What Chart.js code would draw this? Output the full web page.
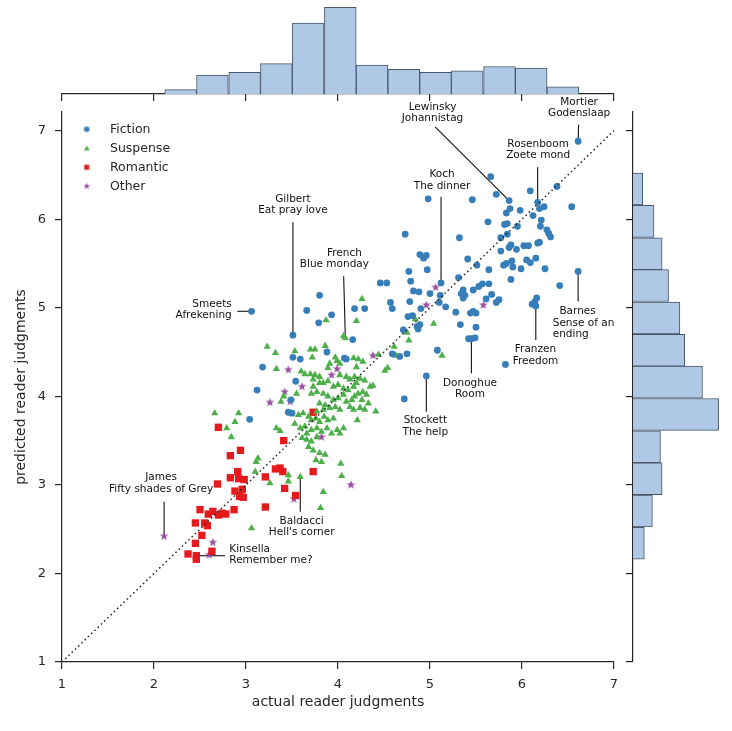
<!DOCTYPE html>
<html>
<head>
<meta charset="utf-8">
<script src="https://cdn.jsdelivr.net/npm/chart.js@4.4.1/dist/chart.umd.min.js"></script>
<style>
  body { margin: 0; background: #fff; }
  #wrap { position: relative; width: 732px; height: 731px; }
  canvas { position: absolute; left: 0; top: 0; }
</style>
</head>
<body>
<div id="wrap">
  <canvas id="main" width="732" height="731"></canvas>
  <canvas id="topHist" width="732" height="731"></canvas>
  <canvas id="rightHist" width="732" height="731"></canvas>
</div>
<script>
const seriesNames = ['Fiction', 'Suspense', 'Romantic', 'Other'];
const seriesColors = ['#377eb8', '#4daf4a', '#e41a1c', '#984ea3'];

// [actual, predicted] per book; the labelled books come first
const fiction = [
  [6.61, 6.88], [5.86, 6.21], [6.17, 6.19], [5.12, 5.28], [3.51, 4.69],
  [3.06, 4.96], [6.61, 5.41], [6.15, 5.02], [5.45, 4.65], [4.96, 4.23],
  [6.38, 6.37], [6.54, 6.14], [6.09, 6.32], [5.66, 6.48], [5.72, 6.28],
  [5.46, 6.22], [4.98, 6.23], [4.73, 5.83], [5.32, 5.79], [5.87, 6.12],
  [5.83, 6.07], [5.98, 6.10], [6.12, 6.04], [6.19, 6.12], [6.24, 6.14],
  [6.21, 5.99], [6.20, 5.92], [6.27, 5.88], [6.29, 5.84], [6.31, 5.80],
  [5.81, 5.94], [5.84, 5.95], [5.95, 5.92], [5.63, 5.97], [5.84, 5.83],
  [5.77, 5.79], [5.88, 5.71], [5.86, 5.68], [6.02, 5.70], [6.07, 5.70],
  [6.17, 5.73], [6.19, 5.74], [5.94, 5.66], [5.77, 5.64], [4.89, 5.60],
  [4.93, 5.56], [4.96, 5.59], [5.41, 5.55], [5.51, 5.48], [4.77, 5.41],
  [4.97, 5.43], [5.64, 5.43], [5.80, 5.48], [5.83, 5.50], [5.89, 5.53],
  [5.90, 5.46], [5.99, 5.44], [6.05, 5.54], [6.09, 5.51], [6.15, 5.56],
  [6.25, 5.44], [4.79, 5.30], [4.46, 5.28], [4.53, 5.28], [5.31, 5.34],
  [5.64, 5.27], [5.88, 5.32], [6.41, 5.25], [4.82, 5.19], [4.88, 5.18],
  [5.00, 5.16], [5.36, 5.20], [5.34, 5.16], [5.38, 5.14], [5.36, 5.11],
  [5.47, 5.20], [5.53, 5.24], [5.57, 5.27], [5.67, 5.15], [5.75, 5.09],
  [5.72, 5.06], [5.61, 5.10], [4.57, 5.06], [4.59, 4.99], [4.78, 5.07],
  [4.90, 4.99], [5.11, 5.14], [5.10, 5.06], [5.17, 5.01], [5.28, 4.95],
  [5.44, 4.94], [5.47, 4.96], [5.50, 4.94], [6.11, 5.04], [6.14, 5.07],
  [6.16, 5.11], [4.18, 4.99], [4.29, 4.99], [3.93, 4.92], [4.76, 4.90],
  [4.81, 4.91], [4.86, 4.79], [4.87, 4.76], [4.89, 4.81], [4.71, 4.75],
  [5.33, 4.81], [5.50, 4.78], [5.42, 4.65], [5.49, 4.66], [4.16, 4.64],
  [4.59, 4.48], [4.67, 4.45], [4.75, 4.48], [5.08, 4.52], [4.07, 4.43],
  [4.09, 4.42], [5.82, 4.36], [4.72, 3.97], [3.80, 5.14], [3.66, 4.97],
  [3.79, 4.83], [3.51, 4.44], [3.59, 4.42], [3.18, 4.33], [3.54, 4.17],
  [3.12, 4.07], [3.49, 3.96], [3.46, 3.82], [3.50, 3.81], [3.04, 3.74],
  [3.88, 4.50]
];

const suspense = [
  [4.08, 4.66], [3.59, 3.09],
  [4.06, 4.68], [4.26, 5.10], [4.20, 4.85], [4.84, 4.87], [5.04, 4.82],
  [4.75, 4.72], [4.77, 4.63], [4.61, 4.56], [5.13, 4.46], [4.63, 4.46],
  [4.54, 4.32], [4.51, 4.29], [4.44, 4.47], [4.41, 3.83], [4.21, 3.73],
  [3.87, 4.86], [3.23, 4.56], [3.32, 4.49], [3.53, 4.51], [3.70, 4.53],
  [3.75, 4.53], [3.86, 4.57], [3.72, 4.44], [3.97, 4.44], [3.99, 4.40],
  [3.91, 4.37], [3.89, 4.32], [4.02, 4.37], [4.17, 4.43], [4.22, 4.42],
  [4.27, 4.39], [4.20, 4.33], [3.33, 4.31], [3.60, 4.28], [3.64, 4.25],
  [3.70, 4.25], [3.75, 4.24], [3.80, 4.22], [3.73, 4.19], [3.80, 4.15],
  [3.84, 4.15], [3.89, 4.17], [4.02, 4.24], [4.09, 4.22], [4.13, 4.19],
  [4.18, 4.22], [4.24, 4.20], [4.29, 4.18], [3.95, 4.11], [4.00, 4.13],
  [4.06, 4.09], [4.11, 4.07], [4.17, 4.11], [4.20, 4.15], [4.38, 4.12],
  [3.73, 4.11], [3.71, 4.03], [3.77, 4.05], [3.84, 4.03], [3.89, 4.00],
  [3.95, 3.96], [4.00, 3.98], [4.06, 4.02], [4.09, 3.94], [4.15, 3.96],
  [4.18, 4.00], [4.22, 4.03], [4.27, 4.05], [4.31, 4.02], [4.26, 3.96],
  [4.33, 3.92], [3.38, 3.94], [3.41, 4.00], [3.55, 4.03], [3.80, 3.92],
  [3.86, 3.90], [3.84, 3.85], [3.77, 3.83], [3.91, 3.87], [3.97, 3.88],
  [4.02, 3.85], [4.13, 3.88], [4.17, 3.85], [4.24, 3.87], [4.29, 3.85],
  [3.57, 3.79], [3.62, 3.81], [3.68, 3.77], [3.71, 3.73], [3.76, 3.75],
  [3.80, 3.71], [3.85, 3.77], [3.89, 3.73], [3.95, 3.75], [2.66, 3.81],
  [2.92, 3.81], [2.79, 3.64], [2.88, 3.71], [2.84, 3.54], [3.33, 3.64],
  [3.37, 3.61], [3.53, 3.69], [3.59, 3.64], [3.64, 3.66], [3.66, 3.58],
  [3.71, 3.62], [3.77, 3.64], [3.82, 3.60], [3.88, 3.64], [3.93, 3.58],
  [3.99, 3.62], [4.06, 3.64], [3.61, 3.53], [3.66, 3.51], [3.71, 3.49],
  [3.77, 3.54], [3.68, 3.43], [3.73, 3.39], [3.80, 3.36], [3.86, 3.34],
  [3.13, 3.30], [4.02, 3.58], [3.11, 3.26], [3.10, 3.15], [3.26, 3.02],
  [3.46, 3.11], [3.46, 3.04], [3.84, 2.92], [3.81, 2.74], [4.03, 3.24],
  [4.04, 3.10], [3.06, 2.51], [3.82, 3.26], [3.76, 3.28], [4.35, 4.11]
];

const romantic = [
  [2.46, 2.20],
  [3.73, 3.82], [2.70, 3.65], [3.41, 3.50], [2.94, 3.39], [2.83, 3.33],
  [3.32, 3.18], [3.37, 3.19], [3.40, 3.15], [3.73, 3.15], [2.83, 3.08],
  [2.91, 3.15], [2.92, 3.07], [2.98, 3.06], [3.21, 3.09], [2.69, 3.01],
  [3.42, 2.96], [2.88, 2.93], [2.96, 2.95], [2.93, 2.87], [2.97, 2.86],
  [3.54, 2.88], [3.21, 2.75], [2.50, 2.72], [2.59, 2.67], [2.64, 2.70],
  [2.70, 2.66], [2.74, 2.68], [2.78, 2.67], [2.87, 2.72], [2.45, 2.57],
  [2.55, 2.57], [2.58, 2.54], [2.52, 2.43], [2.45, 2.34], [2.63, 2.25],
  [2.37, 2.22], [2.46, 2.16]
];

const other = [
  [2.11, 2.42],
  [5.06, 5.23], [4.96, 5.03], [5.58, 5.03], [4.38, 4.46], [3.99, 4.31],
  [3.93, 4.24], [3.46, 4.30], [3.61, 4.11], [3.42, 4.05], [3.26, 3.93],
  [3.48, 3.94], [3.82, 3.54], [2.64, 2.35], [2.60, 2.21], [3.52, 2.84],
  [4.14, 3.00]
];

// marginal histograms: bin edges and counts
const topEdges = [2.12, 2.46, 2.81, 3.16, 3.50, 3.85, 4.20, 4.54, 4.89, 5.23, 5.58, 5.93, 6.27, 6.62];
const topCounts = [3, 13, 15, 21, 49, 60, 20, 17, 15, 16, 19, 18, 5];
const rightEdges = [2.16, 2.52, 2.89, 3.25, 3.61, 3.98, 4.34, 4.70, 5.07, 5.43, 5.79, 6.16, 6.52];
const rightCounts = [7, 12, 18, 17, 53, 43, 32, 29, 22, 18, 13, 6];

const axisMin = 1, axisMax = 7, axisTop = 7.21;
const diagonal = [1, 7];

const ink = '#262626';
const histFill = '#aec8e5';
const histEdge = '#475769';

Chart.defaults.font.family = "'DejaVu Sans', sans-serif";
Chart.defaults.color = ink;
Chart.defaults.animation = false;

let toPoints = arr => arr.map(p => ({x: p[0], y: p[1]}));

let sprite = (size, draw) => {
  let c = document.createElement('canvas');
  c.width = c.height = size;
  let g = c.getContext('2d');
  draw(g, size / 2);
  return c;
};

let starPath = (g, c, ro, ri) => {
  g.beginPath();
  for (let i = 0; i < 10; i++) {
    let r = i % 2 ? ri : ro, a = -Math.PI / 2 + i * Math.PI / 5;
    g.lineTo(c + r * Math.cos(a), c + r * Math.sin(a));
  }
  g.closePath();
};

let starMark = sprite(12, (g, c) => { g.fillStyle = seriesColors[3]; starPath(g, c, 4.6, 1.9); g.fill(); });

let legendMarks = [
  sprite(10, (g, c) => { g.fillStyle = seriesColors[0]; g.beginPath(); g.arc(c, c, 2.8, 0, Math.PI * 2); g.fill(); }),
  sprite(10, (g, c) => {
    g.fillStyle = seriesColors[1]; g.beginPath();
    for (let k = 0; k < 3; k++) { let a = -Math.PI / 2 + k * 2 * Math.PI / 3; g.lineTo(c + 3.4 * Math.cos(a), c + 0.6 + 3.4 * Math.sin(a)); }
    g.closePath(); g.fill();
  }),
  sprite(10, (g, c) => { g.fillStyle = seriesColors[2]; g.fillRect(c - 2.5, c - 2.5, 5, 5); }),
  sprite(10, (g, c) => { g.fillStyle = seriesColors[3]; starPath(g, c, 3.4, 1.4); g.fill(); })
];

// book labels: series, point, text, text offset (px) and where the leader line starts
const notes = [
  {s: 0, i: 0, lines: ['Mortier', 'Godenslaap'], align: 'center', tx: 1, ty: -33.5, lx: 0.5, ly: -16.5},
  {s: 0, i: 1, lines: ['Lewinsky', 'Johannistag'], align: 'center', tx: -76.6, ty: -88, lx: -74, ly: -73.6},
  {s: 0, i: 2, lines: ['Rosenboom', 'Zoete mond'], align: 'center', tx: 0.5, ty: -52.4, lx: 0, ly: -35},
  {s: 0, i: 3, lines: ['Koch', 'The dinner'], align: 'center', tx: 1, ty: -102.5, lx: 0, ly: -86.3},
  {s: 0, i: 4, lines: ['Gilbert', 'Eat pray love'], align: 'center', tx: 0, ty: -130.2, lx: 0, ly: -113},
  {s: 1, i: 0, lines: ['      French', 'Blue monday'], align: 'center', tx: -11, ty: -79, lx: -1.7, ly: -61.6},
  {s: 0, i: 5, lines: ['Smeets', 'Afrekening'], align: 'right', tx: -19.8, ty: -1.3, lx: -14.2, ly: 0},
  {s: 0, i: 6, lines: ['  Barnes', 'Sense of an', 'ending'], align: 'left', tx: -25.4, ty: 51.8, lx: 0, ly: 30},
  {s: 0, i: 7, lines: ['Franzen', 'Freedom'], align: 'center', tx: -0.3, ty: 49.5, lx: 0, ly: 34},
  {s: 0, i: 8, lines: ['Donoghue', 'Room'], align: 'center', tx: -1.4, ty: 50.2, lx: 0, ly: 34.5},
  {s: 0, i: 9, lines: ['Stockett', 'The help'], align: 'center', tx: -1, ty: 50.5, lx: 0, ly: 35.7},
  {s: 3, i: 0, lines: ['James', 'Fifty shades of Grey'], align: 'center', tx: -3, ty: -52.8, lx: 0, ly: -34.6},
  {s: 2, i: 0, lines: ['Kinsella', 'Remember me?'], align: 'left', tx: 33, ty: -1, lx: 28.7, ly: 0},
  {s: 1, i: 1, lines: ['Baldacci', "Hell's corner"], align: 'center', tx: 1.4, ty: 49.8, lx: 0, ly: 34.8}
];
const noteGap = 11.5;

let notePixel = (chart, n) => {
  let p = chart.data.datasets[n.s].data[n.i];
  return [chart.scales.x.getPixelForValue(p.x), chart.scales.y.getPixelForValue(p.y)];
};

let annotate = {
  id: 'annotate',
  beforeDatasetsDraw(chart) {
    let ctx = chart.ctx;
    ctx.save();
    ctx.strokeStyle = '#111';
    ctx.lineWidth = 1.1;
    notes.forEach(n => {
      let [px, py] = notePixel(chart, n);
      ctx.beginPath();
      ctx.moveTo(px + n.lx, py + n.ly);
      ctx.lineTo(px, py);
      ctx.stroke();
    });
    ctx.restore();
  },
  afterDatasetsDraw(chart) {
    let ctx = chart.ctx;
    ctx.save();
    ctx.font = "10.5px 'DejaVu Sans'";
    ctx.fillStyle = '#111';
    ctx.textBaseline = 'middle';
    notes.forEach(n => {
      let [px, py] = notePixel(chart, n);
      ctx.textAlign = n.align;
      n.lines.forEach((t, k) => {
        ctx.fillText(t, px + n.tx, py + n.ty + (k - (n.lines.length - 1) / 2) * noteGap);
      });
    });
    ctx.restore();
  }
};

// legend sits inside the plot, top left
let legendSpot = {
  id: 'legendSpot',
  beforeDraw(chart) {
    let a = chart.chartArea, l = chart.legend;
    l.left = a.left + 1.2;
    l.top = a.top + 4.5;
    l.right = a.right;
    l.bottom = a.bottom;
  }
};

let axisLine = { color: ink, width: 1.2 };
let tickMarks = { drawOnChartArea: false, drawTicks: true, tickLength: 7, color: ink, lineWidth: 1.2, offset: false };

let markStyles = [
  { pointStyle: 'circle', pointRadius: 3.4 },
  { pointStyle: 'triangle', pointRadius: 4.2 },
  { pointStyle: 'rect', pointRadius: 5.2 },
  { pointStyle: starMark, pointRadius: 4 }
];

let mainChart = new Chart(document.getElementById('main'), {
  type: 'scatter',
  data: {
    datasets: [fiction, suspense, romantic, other].map((arr, k) => ({
      label: seriesNames[k],
      data: toPoints(arr),
      backgroundColor: seriesColors[k],
      borderWidth: 0,
      ...markStyles[k]
    })).concat([{
      label: 'diagonal',
      data: diagonal.map(v => ({x: v, y: v})),
      showLine: true,
      pointRadius: 0,
      borderColor: '#222',
      borderWidth: 1.5,
      borderDash: [1.5, 3],
      order: -1
    }])
  },
  options: {
    responsive: false,
    layout: { padding: { left: 0, right: 118, top: 112, bottom: 0 } },
    plugins: {
      tooltip: { enabled: false },
      legend: {
        position: 'chartArea',
        align: 'start',
        labels: {
          usePointStyle: true,
          pointStyleWidth: 34,
          padding: 6.5,
          color: ink,
          font: { size: 12.5 },
          generateLabels: chart => Chart.defaults.plugins.legend.labels.generateLabels(chart)
            .map(item => ({...item, pointStyle: legendMarks[item.datasetIndex]})),
          filter: item => item.datasetIndex < seriesNames.length
        }
      }
    },
    scales: {
      x: {
        type: 'linear', min: axisMin, max: axisMax,
        ticks: { stepSize: 1, padding: 8, color: ink, font: { size: 13 } },
        grid: tickMarks,
        border: axisLine,
        title: { display: true, text: 'actual reader judgments', color: ink, font: { size: 14 }, padding: { top: 0, bottom: 20 } },
        afterFit: s => { s.height = 69; }
      },
      y: {
        type: 'linear', min: axisMin, max: axisTop,
        ticks: { stepSize: 1, includeBounds: false, padding: 9, color: ink, font: { size: 13 } },
        grid: tickMarks,
        border: axisLine,
        title: { display: true, text: 'predicted reader judgments', color: ink, font: { size: 14 }, padding: { top: 13, bottom: 0 } },
        afterFit: s => { s.width = 62; }
      }
    }
  },
  plugins: [annotate, legendSpot]
});

let binCenters = edges => edges.slice(1).map((e, i) => (e + edges[i]) / 2);

let histBars = {
  backgroundColor: histFill,
  borderColor: histEdge,
  borderWidth: 1,
  barPercentage: 1,
  categoryPercentage: 1
};

let topChart = new Chart(document.getElementById('topHist'), {
  type: 'bar',
  data: {
    datasets: [{ data: binCenters(topEdges).map((c, i) => ({x: c, y: topCounts[i]})), ...histBars }]
  },
  options: {
    responsive: false,
    layout: { padding: { left: 62, right: 118, top: 0, bottom: 630 } },
    plugins: { legend: { display: false }, tooltip: { enabled: false } },
    scales: {
      x: {
        type: 'linear', min: axisMin, max: axisMax, offset: false,
        ticks: { display: false, stepSize: 1 },
        grid: tickMarks,
        border: axisLine
      },
      y: { display: false, min: 0, max: 65 }
    }
  }
});

let rightChart = new Chart(document.getElementById('rightHist'), {
  type: 'bar',
  data: {
    datasets: [{ data: binCenters(rightEdges).map((c, i) => ({y: c, x: rightCounts[i]})), ...histBars }]
  },
  options: {
    indexAxis: 'y',
    responsive: false,
    layout: { padding: { left: 626, right: 9, top: 112, bottom: 69 } },
    plugins: { legend: { display: false }, tooltip: { enabled: false } },
    scales: {
      y: {
        type: 'linear', position: 'left', min: axisMin, max: axisTop, offset: false,
        ticks: { display: false, stepSize: 1, includeBounds: false },
        grid: tickMarks,
        border: axisLine
      },
      x: { display: false, min: 0, max: 55.7 }
    }
  }
});
</script>
</body>
</html>
